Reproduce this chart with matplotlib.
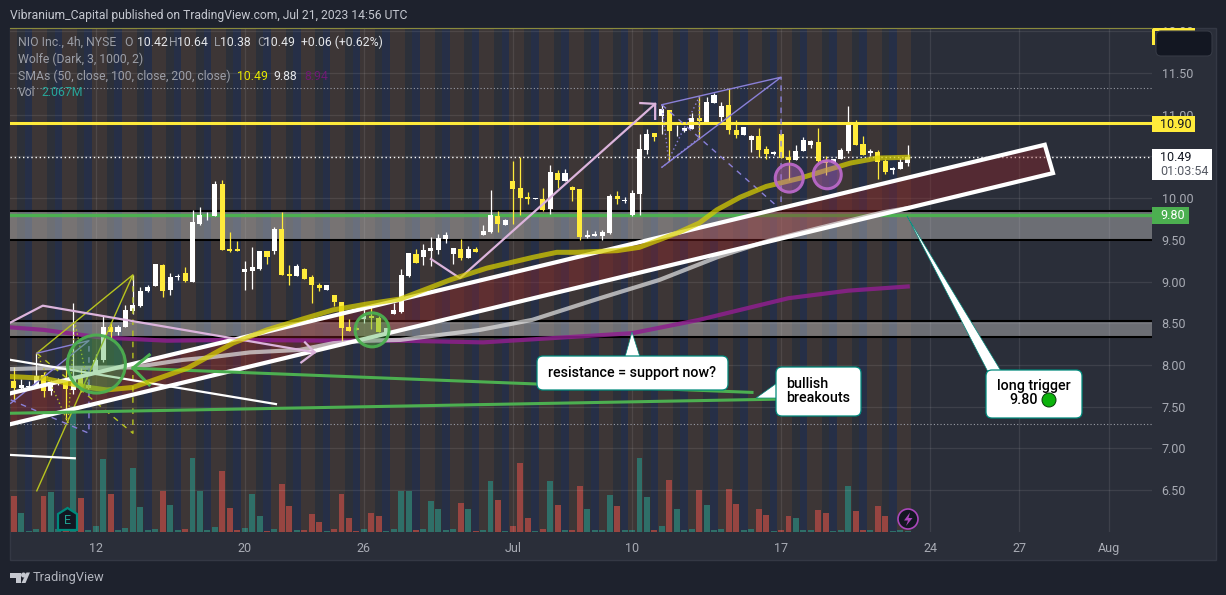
import matplotlib
matplotlib.use("Agg")
import matplotlib.pyplot as plt
from matplotlib.patches import Ellipse, FancyBboxPatch, Polygon, Rectangle

# candles, 4h bars, oldest first
opens = [7.81,7.72,7.74,7.74,7.88,7.69,7.78,7.82,7.70,7.84,
         7.72,7.92,8.06,8.45,8.39,8.45,8.65,8.71,8.89,8.95,
         9.20,8.90,9.05,9.10,9.00,9.69,9.78,9.78,10.17,9.39,
         9.39,9.11,9.13,9.15,9.37,9.37,9.63,9.09,9.07,9.15,
         9.05,8.96,8.90,8.84,8.75,8.45,8.44,8.55,8.59,8.56,
         8.39,8.61,8.63,9.07,9.33,9.29,9.37,9.38,9.51,9.33,
         9.39,9.28,9.39,9.56,9.59,9.79,9.68,10.20,10.12,10.01,
         9.99,9.99,9.87,10.30,10.21,10.13,10.11,9.53,9.55,9.55,
         9.58,10.03,9.96,9.80,10.05,10.58,10.78,10.99,11.06,10.80,
         10.81,10.83,10.96,10.91,11.14,10.97,11.12,10.82,10.76,10.70,
         10.74,10.59,10.53,10.77,10.49,10.46,10.57,10.64,10.67,10.46,
         10.42,10.47,10.57,10.89,10.65,10.54,10.55,10.44,10.34,10.35,10.42]
highs = [7.97,7.83,7.81,8.14,7.92,7.82,7.84,8.00,8.74,7.96,
         7.78,8.13,8.60,8.50,8.48,8.72,9.08,8.94,8.96,9.21,
         9.21,9.10,9.09,9.17,9.86,9.89,9.83,10.20,10.22,9.59,
         9.49,9.24,9.41,9.37,9.37,9.65,9.83,9.20,9.21,9.16,
         9.08,8.98,8.96,8.84,8.76,8.55,8.49,8.68,8.71,8.59,
         8.44,8.74,9.15,9.34,9.39,9.45,9.53,9.57,9.59,9.40,
         9.51,9.43,9.41,9.68,10.10,9.85,9.75,10.44,10.49,10.07,
         10.00,10.12,10.40,10.34,10.35,10.14,10.11,9.62,9.60,9.62,
         10.05,10.08,10.01,10.10,10.77,10.83,10.78,11.12,11.06,10.88,
         10.85,11.02,11.22,11.21,11.26,11.15,11.32,10.94,10.85,10.76,
         10.84,10.62,10.56,10.77,10.58,10.64,10.73,10.70,10.84,10.50,
         10.47,10.60,11.10,10.94,10.74,10.59,10.58,10.47,10.37,10.48,10.64]
lows = [7.58,7.70,7.73,7.74,7.61,7.64,7.76,7.34,7.65,7.67,
        7.71,7.92,8.04,8.30,8.36,8.45,8.61,8.69,8.88,8.95,
        8.81,8.84,9.02,8.99,9.00,9.68,9.74,9.78,9.38,9.35,
        9.37,8.90,8.91,9.14,9.21,9.33,9.08,8.96,9.07,9.03,
        8.74,8.89,8.90,8.71,8.29,8.41,8.42,8.50,8.43,8.39,
        8.39,8.61,8.62,9.05,9.22,9.20,9.19,9.33,9.46,9.21,
        9.26,9.28,9.35,9.56,9.58,9.59,9.68,9.69,9.80,9.93,
        9.99,9.85,9.81,10.12,10.21,9.97,9.50,9.52,9.55,9.50,
        9.57,9.93,9.94,9.79,9.80,10.53,10.68,10.77,10.45,10.74,
        10.79,10.83,10.71,10.91,11.14,10.91,10.77,10.72,10.76,10.55,
        10.49,10.47,10.52,10.48,10.22,10.46,10.57,10.60,10.43,10.28,
        10.42,10.47,10.54,10.64,10.52,10.50,10.23,10.29,10.29,10.35,10.38]
closes = [7.72,7.76,7.75,7.87,7.69,7.79,7.81,7.71,7.83,7.74,
          7.76,8.06,8.45,8.39,8.45,8.66,8.72,8.89,8.93,9.21,
          8.89,9.05,9.06,9.01,9.71,9.80,9.79,10.17,9.38,9.37,
          9.37,9.15,9.17,9.37,9.29,9.63,9.08,9.07,9.19,9.03,
          8.96,8.92,8.96,8.75,8.44,8.41,8.42,8.59,8.56,8.39,
          8.44,8.66,9.08,9.34,9.22,9.38,9.40,9.52,9.56,9.40,
          9.28,9.39,9.35,9.61,9.80,9.69,9.74,10.11,10.00,9.99,
          10.00,9.86,10.31,10.22,10.30,10.10,9.53,9.56,9.57,9.59,
          10.03,9.99,9.98,10.06,10.59,10.77,10.73,11.07,10.80,10.81,
          10.84,10.96,10.92,11.15,11.24,11.10,10.82,10.76,10.85,10.74,
          10.58,10.53,10.55,10.48,10.46,10.57,10.70,10.68,10.44,10.42,
          10.47,10.58,10.90,10.64,10.52,10.56,10.43,10.31,10.36,10.43,10.49]

# volume in millions, R = red, G = green
volumes = [36,19,1,3,36,40,3,1,126,34,2,6,73,38,2,4,64,25,2,3,
           41,27,2,3,74,41,2,5,61,24,2,4,38,16,1,3,48,26,2,2,
           18,10,1,3,38,14,1,3,19,16,1,3,41,41,2,3,31,23,2,3,
           29,23,1,2,51,32,1,6,69,14,1,3,51,27,2,2,46,23,2,2,
           37,26,2,2,74,35,2,6,52,23,2,3,42,27,2,3,43,28,2,3,
           23,17,1,2,16,14,2,2,22,19,1,2,46,21,2,2,26,16,1,2,1]
vol_dirs = ("RGGGRGGRGR" "GGGRGGGGGG" "RGGRGGGGRR" "RGGGRGRRGR"
            "RRGRRRRGRR" "GGGGRGGGGG" "RGRGGRGRRR" "GRGRGRRGGG" "G"
            "RGGGGRGRGG" "GRGGGRRGGR" "RGRRGGGRRG" "GGRRGRRGGG")

# moving averages, bar number and price
sma50_x = [-0.4,4,10,12.5,16,23.3,29.4,34,38.4,42.9,47.4,51.9,58.6,63.5,69.7,72.9,75.6,81,84,89,92,94.4,97.5,101,105.6,107.8,112.3,115.9,120]
sma50_y = [7.86,7.84,7.73,7.70,7.73,7.96,8.26,8.42,8.54,8.66,8.73,8.79,9.02,9.16,9.29,9.35,9.35,9.37,9.41,9.58,9.70,9.86,10.01,10.14,10.24,10.30,10.42,10.48,10.49]
sma100_x = [-0.4,3.5,16,22.7,26.3,31.7,38.4,42.9,47.4,51.9,62.6,69.6,78.7,86.7,94.4,101,108,116.7,120]
sma100_y = [7.95,7.96,7.97,8.06,8.09,8.15,8.18,8.26,8.29,8.30,8.42,8.54,8.80,9.02,9.29,9.48,9.64,9.83,9.88]
sma200_x = [-0.4,4,11.6,20.6,29.4,42.9,51.9,63,83,92,104,112,120]
sma200_y = [8.45,8.42,8.33,8.29,8.30,8.29,8.29,8.27,8.38,8.54,8.80,8.89,8.94]

price_ticks = [12.0,11.5,11.0,10.5,10.0,9.5,9.0,8.5,8.0,7.5,7.0,6.5]
date_ticks = [11,31,47,67,83,103,123,135,147]
date_labels = ["12","20","26","Jul","10","17","24","27","Aug"]

# hand drawn levels and channel
level_yellow = 10.90
level_green = 9.80
zone_high = [9.84,9.50]
zone_low = [8.53,8.33]
last_price = 10.49
dotted_levels = [11.32,7.29]
channel_x = [-0.4,138.4,139.5,-0.4]
channel_y = [7.66,10.64,10.30,7.29]

PANE = "#2a2e39"
OUTER = "#1e222d"
YELLOW = "#ffeb3b"
GREEN = "#4caf50"
PINK = "#dcb4dc"
LIME = "#b7c41f"
VIOLET = "#8a80d8"
GREY_TXT = "#9a9da6"
TICK_TXT = "#a8abb4"

plt.rcParams["font.family"] = "Roboto"

fig = plt.figure(figsize=(12.26,5.95), dpi=100, facecolor=OUTER)
rect = [10/1226, 1-532/595, 1142/1226, 504/595]

# pane behind everything
fig.patches.append(Rectangle((10/1226,1-560/595), 1206/1226, 532/595, transform=fig.transFigure, facecolor=PANE, edgecolor="#343844", lw=1, zorder=-5))

# lower axes: session stripes and volume
ax_vol = fig.add_axes(rect, zorder=1)
ax_vol.set_facecolor("none")
ax_vol.set_xlim(-0.497,152.79)
ax_vol.set_ylim(0,504)
ax_vol.axis("off")
stripe_cols = {3:"#3d3636", 0:"#3d3636", 1:"#2c3039", 2:"#262f47"}
for i in range(len(closes)):
    ax_vol.axvspan(i-0.5, i+0.5, color=stripe_cols[i%4], lw=0, zorder=0, antialiased=False)
for i, v in enumerate(volumes):
    col = "#974541" if vol_dirs[i] == "R" else "#2f6f68"
    ax_vol.bar(i, v, width=0.8, color=col, lw=0, zorder=1)

# main axes
ax = fig.add_axes(rect, zorder=2)
ax.set_facecolor("none")
ax.set_xlim(-0.497,152.79)
ax.set_ylim(5.996,12.04)
for s in ax.spines.values():
    s.set_visible(False)
ax.yaxis.tick_right()
ax.set_yticks(price_ticks)
ax.set_yticklabels(["%.2f" % p for p in price_ticks], fontsize=9, color=TICK_TXT)
ax.set_xticks(date_ticks)
ax.set_xticklabels(date_labels, fontsize=9, color=TICK_TXT)
ax.tick_params(axis="both", length=0)
ax.tick_params(axis="y", pad=7)
ax.tick_params(axis="x", pad=7)
ax.grid(True, color="#e6e6e6", alpha=0.10, lw=0.9)
ax.set_axisbelow(True)

# zones and levels
for zone in (zone_high, zone_low):
    ax.axhspan(zone[1], zone[0], color="#c8c8c8", alpha=0.42, lw=0, zorder=1)
    ax.axhline(zone[0], color="black", lw=1.5, zorder=2)
    ax.axhline(zone[1], color="black", lw=1.5, zorder=2)
ax.axhline(level_yellow, color=YELLOW, lw=2.2, zorder=6)
ax.axhline(level_green, color=GREEN, lw=2.4, zorder=2)
ax.axhline(last_price, color="white", lw=1, ls=(0,(1,2)), zorder=2)
for lvl in dotted_levels:
    ax.axhline(lvl, color="#9a9da6", lw=0.8, ls=(0,(1,2)), zorder=2)

# candles
for i in range(len(closes)):
    up = closes[i] >= opens[i]
    col = "white" if up else YELLOW
    ax.vlines(i, lows[i], highs[i], color=col, lw=0.9, zorder=5)
    ax.bar(i, abs(closes[i]-opens[i]), bottom=min(opens[i],closes[i]), width=0.68, color=col, lw=0, zorder=5)

# channel
ax.fill(channel_x, channel_y, color="#99262a", alpha=0.38, lw=0, zorder=3)
ax.plot(channel_x, channel_y, color="white", lw=3, solid_joinstyle="miter", zorder=7)

# moving averages
ax.plot(sma100_x, sma100_y, color="#e6e6e6", lw=3, alpha=0.7, zorder=6)
ax.plot(sma200_x, sma200_y, color="#8e1f8e", lw=3, alpha=0.85, zorder=4)
ax.plot(sma50_x, sma50_y, color="#d8d000", lw=3.6, alpha=0.72, zorder=8)

# pink and white drawings
ax.plot([56.0,59.9,86.1], [9.27,9.04,11.13], color=PINK, lw=1.6, zorder=7)
ax.plot([84.1,86.1,86.1], [11.14,11.13,10.95], color=PINK, lw=1.6, zorder=7)
ax.plot([-0.4,3.9,40.4], [8.51,8.71,8.15], color=PINK, lw=1.6, zorder=7)
ax.plot([39.1,40.4,38.6], [8.27,8.15,8.03], color=PINK, lw=1.6, zorder=7)
ax.plot([-0.4,35.2], [8.06,7.53], color="white", lw=1.6, zorder=7)
ax.plot([-0.4,8.2], [6.92,6.88], color="white", lw=1.6, zorder=7)

# green breakout lines
ax.plot([16.0,99.1], [7.96,7.67], color=GREEN, lw=2.2, zorder=7)
ax.plot([18.2,16.0,18.2], [8.12,7.96,7.76], color=GREEN, lw=2.2, zorder=7)
ax.plot([-0.4,103.1], [7.42,7.59], color=GREEN, lw=2.2, zorder=7)

# wolfe waves
ax.plot([3.1,16.0,3.1], [8.14,9.08,6.49], color=LIME, lw=1, zorder=6)
ax.plot([3.1,16.0,16.0], [8.14,7.18,9.08], color=LIME, lw=1, ls=(0,(4,4)), zorder=6)
ax.plot([3.1,7.3,8.2,10.1], [8.14,7.31,8.51,7.72], color=LIME, lw=1, ls=(0,(1,2)), zorder=6)
ax.plot([3.1,10.1,-0.4], [8.14,8.29,7.54], color=VIOLET, lw=1, zorder=6)
ax.plot([-0.4,10.1,10.1], [7.58,7.18,8.29], color=VIOLET, lw=1, ls=(0,(4,4)), zorder=6)
ax.plot([87.0,103.0,87.0], [11.12,11.45,10.37], color=VIOLET, lw=1, zorder=6)
ax.plot([87.0,103.0,103.0], [11.12,9.86,11.45], color=VIOLET, lw=1, ls=(0,(4,4)), zorder=6)
ax.plot([87.0,87.9,92,92,87.0], [11.12,10.46,11.21,10.72,10.37], color=VIOLET, lw=1, ls=(0,(1,2)), zorder=6)

# circles around the touches
circle_x = [11.1,48.1,104.1,109.2]
circle_y = [8.01,8.42,10.24,10.28]
circle_r = [29,17,14,14]
circle_c = [GREEN,GREEN,"#ba68c8","#ba68c8"]
for cx, cy, r, c in zip(circle_x, circle_y, circle_r, circle_c):
    ax.add_patch(Ellipse((cx,cy), 2*r/7.45, 2*r/83.4, facecolor=c, alpha=0.4, lw=0, zorder=9))
    ax.add_patch(Ellipse((cx,cy), 2*r/7.45, 2*r/83.4, facecolor="none", edgecolor=c, alpha=0.95, lw=2.2, zorder=9))

# pixel overlay for labels, callouts and badges
ov = fig.add_axes([0,0,1,1], zorder=3)
ov.set_facecolor("none")
ov.set_xlim(0,1226)
ov.set_ylim(595,0)
ov.axis("off")

def label(x, y, s, color, size=8.8, **kw):
    ov.text(x, y, s, color=color, fontsize=size, va="center", **kw)

# header and legend
label(10, 15, "Vibranium_Capital published on TradingView.com, Jul 21, 2023 14:56 UTC", "#c5c8d0", size=8.7)
ov.plot([10,1152], [27.5,27.5], color="#8a8a3c", lw=0.8)
label(18, 42, "NIO Inc., 4h, NYSE", GREY_TXT)
for x, s, c in [(124,"O",GREY_TXT),(137,"10.42","#e4e6ea"),(169,"H",GREY_TXT),(177,"10.64","#e4e6ea"),
                (214,"L",GREY_TXT),(220,"10.38","#e4e6ea"),(257,"C",GREY_TXT),(264,"10.49","#e4e6ea"),
                (301,"+0.06 (+0.62%)","#e4e6ea")]:
    label(x, 42, s, c)
label(18, 59, "Wolfe (Dark, 3, 1000, 2)", GREY_TXT)
label(18, 76, "SMAs (50, close, 100, close, 200, close)", GREY_TXT)
label(237, 76, "10.49", "#e8e800")
label(273, 76, "9.88", "#e4e6ea")
label(304, 76, "8.94", "#6f1a72")
label(18, 93, "Vol", GREY_TXT)
label(42, 93, "2.067M", "#26a69a")

# box at top of the price scale
ov.add_patch(Rectangle((1152,28), 43, 2.7, facecolor=YELLOW, lw=0))
ov.add_patch(Rectangle((1152,28), 3, 17, facecolor=YELLOW, lw=0))
ov.add_patch(FancyBboxPatch((1158,33), 52, 21, boxstyle="round,pad=2,rounding_size=5", facecolor="#131722", edgecolor="#363a45", lw=0.8))

# price labels
ov.add_patch(Rectangle((1152,115.7), 43, 16, facecolor=YELLOW, lw=0))
label(1160, 124, "10.90", "#131722", size=9)
ov.add_patch(Rectangle((1152,149), 60, 31, facecolor="white", lw=0))
label(1160, 157.5, "10.49", "#131722", size=9)
label(1160, 171.5, "01:03:54", "#555963", size=9)
ov.add_patch(Rectangle((1152,207), 37, 17, facecolor=GREEN, lw=0))
label(1160, 215.5, "9.80", "white", size=9)

# callouts
TEAL = "#00897b"
def callout(x0, y0, x1, y1, tail):
    ov.add_patch(Polygon(tail, closed=True, facecolor="white", edgecolor=TEAL, lw=0.5, zorder=4))
    ov.add_patch(FancyBboxPatch((x0+5,y0+5), x1-x0-10, y1-y0-10, boxstyle="round,pad=5,rounding_size=6",
                                facecolor="white", edgecolor=TEAL, lw=0.9, zorder=5))
    ov.add_patch(Polygon([(p[0],p[1]+1.5) for p in tail[1:]], closed=True, facecolor="white", lw=0, zorder=6))

callout(537, 356, 728, 390, [(632,332),(625,357),(640,357)])
callout(776, 367, 861, 416, [(756,398),(777,383),(777,398)])
callout(986, 370, 1082, 418, [(907,216),(987.5,371),(1001,371)])
ov.text(632, 373, "resistance = support now?", color="black", fontsize=10.3, ha="center", va="center", fontweight="medium", zorder=7)
ov.text(786, 384, "bullish", color="black", fontsize=10.3, va="center", fontweight="medium", zorder=7)
ov.text(786, 398, "breakouts", color="black", fontsize=10.3, va="center", fontweight="medium", zorder=7)
ov.text(1034, 386, "long trigger", color="black", fontsize=10.3, ha="center", va="center", fontweight="medium", zorder=7)
ov.text(1024, 400.5, "9.80", color="black", fontsize=10.3, ha="center", va="center", fontweight="medium", zorder=7)
ov.add_patch(Ellipse((1049,400), 14, 14, facecolor="#0cb30c", edgecolor="#0a3a0a", lw=0.7, zorder=7))

# earnings and dividend style badges
ov.add_patch(Polygon([(58,514),(67.5,508),(77,514),(77,530),(58,530)], closed=True, facecolor="#131722", edgecolor="#00897b", lw=1.6))
ov.text(67.5, 520, "E", color="#1f9d8f", fontsize=9, ha="center", va="center")
ov.add_patch(Ellipse((908,519), 20, 20, facecolor="#131722", edgecolor="#ab47bc", lw=1.2))
ov.add_patch(Polygon([(910,512.5),(904,520.5),(908,520.5),(906,526),(912.5,518),(908.5,518)], closed=True, facecolor="#ab47bc", lw=0))

# footer logo
ov.add_patch(Polygon([(10,572.5),(20.5,572.5),(20.5,583),(15.5,583),(15.5,577.5),(10,577.5)], closed=True, facecolor="#c5c8d0", lw=0))
ov.add_patch(Ellipse((23.5,575), 5, 5, facecolor="#c5c8d0", lw=0))
ov.add_patch(Polygon([(26.5,572.5),(30,572.5),(25.5,583),(21.5,583)], closed=True, facecolor="#c5c8d0", lw=0))
label(33, 577.5, "TradingView", "#b2b5be", size=9.3)

fig.savefig("out.png", dpi=100, facecolor=OUTER)
